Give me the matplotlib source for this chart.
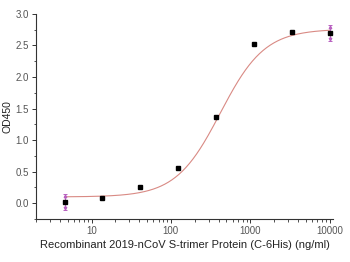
import numpy as np
import matplotlib
matplotlib.use("Agg")
import matplotlib.pyplot as plt
from matplotlib.ticker import MultipleLocator, LogLocator, NullFormatter, FixedLocator

plt.rcParams['font.family'] = ['Liberation Sans', 'DejaVu Sans']

conc = [4.57, 13.7, 41.2, 123.5, 370.4, 1111.1, 3333.3, 10000.0]
od = [0.02, 0.08, 0.25, 0.56, 1.37, 2.52, 2.71, 2.70]
err = [0.13, 0, 0, 0, 0, 0, 0, 0.13]

# 4PL fit parameters (bottom, top, EC50, hill)
fit_bottom, fit_top, fit_ec50, fit_hill = 0.10, 2.76, 420.0, 1.55

fig = plt.figure(figsize=(3.5, 2.62), dpi=100)
ax = fig.add_axes([0.103, 0.164, 0.848, 0.783])

xs = np.logspace(np.log10(conc[0]), np.log10(conc[-1]), 300)
ys = fit_bottom + (fit_top - fit_bottom) / (1 + (fit_ec50 / xs) ** fit_hill)
ax.plot(xs, ys, color='#d98a84', lw=0.8, zorder=2)

ex = [c for c, e in zip(conc, err) if e > 0]
ey = [o for o, e in zip(od, err) if e > 0]
ee = [e for e in err if e > 0]
ax.errorbar(ex, ey, yerr=ee, fmt='none', ecolor='#b860c0', elinewidth=0.7,
            capsize=1.2, capthick=0.7, zorder=3)
for x, y, e in zip(ex, ey, ee):
    ax.plot([x], [y + e - 0.03], marker='^', ms=1.8, color='#b860c0', zorder=3)
    ax.plot([x], [y - e + 0.03], marker='v', ms=1.8, color='#b860c0', zorder=3)
ax.plot(conc, od, 's', color='black', ms=3.5, zorder=4)

ax.set_xscale('log')
ax.set_xlim(2.0, 11000)
ax.set_ylim(-0.25, 3.0)
ax.yaxis.set_minor_locator(MultipleLocator(0.25))
ax.set_yticks([0.0, 0.5, 1.0, 1.5, 2.0, 2.5, 3.0])
ax.set_yticklabels(['0.0', '0.5', '1.0', '1.5', '2.0', '2.5', '3.0'])
ax.xaxis.set_major_locator(FixedLocator([10, 100, 1000, 10000]))
ax.set_xticklabels(['10', '100', '1000', '10000'])
ax.xaxis.set_minor_locator(LogLocator(base=10, subs=np.arange(2, 10)))
ax.xaxis.set_minor_formatter(NullFormatter())

for s in ['top', 'right']:
    ax.spines[s].set_visible(False)
for s in ['left', 'bottom']:
    ax.spines[s].set_color('#333333')
    ax.spines[s].set_linewidth(0.8)

ax.tick_params(axis='both', which='major', labelsize=7, labelcolor='#555555',
               color='#333333', length=3, width=0.7, direction='out', pad=2)
ax.tick_params(axis='both', which='minor', color='#333333', length=1.8, width=0.6, direction='out')

ax.set_xlabel('Recombinant 2019-nCoV S-trimer Protein (C-6His) (ng/ml)', fontsize=8,
              color='#222222', labelpad=3)
ax.set_ylabel('OD450', fontsize=7.5, color='#222222', labelpad=2)

fig.savefig('out.png', dpi=100, facecolor='white')
